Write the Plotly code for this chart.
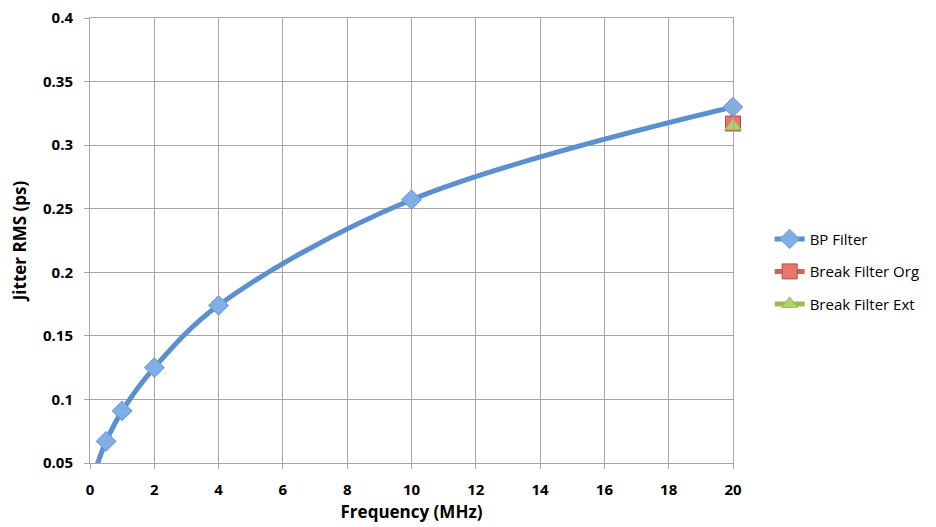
import plotly.graph_objects as go

# Data
bp_freq = [0.2, 0.5, 1, 2, 4, 10, 20]
bp_jitter = [0.047, 0.067, 0.091, 0.125, 0.174, 0.257, 0.330]
org_freq = [20]
org_jitter = [0.317]
ext_freq = [20]
ext_jitter = [0.315]

x_ticks = [0, 2, 4, 6, 8, 10, 12, 14, 16, 18, 20]
y_ticks = [0.05, 0.1, 0.15, 0.2, 0.25, 0.3, 0.35, 0.4]
y_labels = ["0.05", "0.1", "0.15", "0.2", "0.25", "0.3", "0.35", "0.4"]

FONT = "Open Sans"
GRID = "#a6a6a6"

BP_MARKER = dict(symbol="diamond", size=15, color="#82aee8",
                 line=dict(color="#6b9ddc", width=1))

fig = go.Figure()
fig.add_trace(go.Scatter(
    x=bp_freq, y=bp_jitter, name="BP Filter", mode="lines+markers",
    legendgroup="bp",
    line=dict(color="#5a8fd0", width=5, shape="spline", smoothing=1.0),
    marker=BP_MARKER,
))
# markers of visible points drawn unclipped (as in the original)
fig.add_trace(go.Scatter(
    x=bp_freq[1:], y=bp_jitter[1:], mode="markers", showlegend=False,
    legendgroup="bp", marker=BP_MARKER, cliponaxis=False, hoverinfo="skip",
))
fig.add_trace(go.Scatter(
    x=org_freq, y=org_jitter, name="Break Filter Org", mode="lines+markers",
    legendgroup="org", cliponaxis=False,
    line=dict(color="#d0605c", width=5),
    marker=dict(symbol="square", size=15, color="#e8756f",
                line=dict(color="#b84a46", width=1)),
))
fig.add_trace(go.Scatter(
    x=ext_freq, y=ext_jitter, name="Break Filter Ext", mode="lines+markers",
    legendgroup="ext", cliponaxis=False,
    line=dict(color="#9bbb59", width=5),
    marker=dict(symbol="triangle-up", size=14, color="#b2d26a",
                line=dict(color="#9bbb59", width=1)),
))

fig.update_layout(
    width=928, height=519,
    margin=dict(l=82, r=203, t=10, b=64),
    paper_bgcolor="white", plot_bgcolor="white",
    font=dict(family=FONT, color="black", size=13),
    legend=dict(x=1.057, y=0.43, xanchor="left", yanchor="middle",
                font=dict(family=FONT, size=15), tracegroupgap=10),
    xaxis=dict(
        range=[0, 20], tickvals=x_ticks, showgrid=True, gridcolor=GRID, gridwidth=1,
        showline=True, linecolor=GRID, mirror=True, ticks="outside", ticklen=5,
        tickcolor=GRID, zeroline=False, automargin=False, ticklabelstandoff=8,
        tickfont=dict(family=FONT, size=15, weight="bold"),
        title=dict(text="Frequency (MHz)", font=dict(family=FONT, size=17, weight="bold"), standoff=8),
    ),
    yaxis=dict(
        range=[0.05, 0.4], tickvals=y_ticks, ticktext=y_labels, showgrid=True,
        gridcolor=GRID, gridwidth=1, showline=True, linecolor=GRID, mirror=True,
        ticks="outside", ticklen=5, tickcolor=GRID, zeroline=False, automargin=False,
        ticklabelstandoff=8, ticklabeloverflow="allow",
        tickfont=dict(family=FONT, size=15, weight="bold"),
        title=dict(text="Jitter RMS (ps)", font=dict(family=FONT, size=17, weight="bold"), standoff=16),
    ),
)

fig.write_html("out.html")
